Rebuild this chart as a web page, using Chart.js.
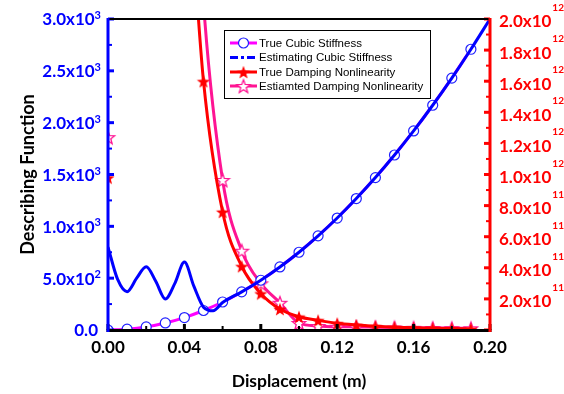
<!DOCTYPE html>
<html>
<head>
<meta charset="utf-8">
<script src="https://cdn.jsdelivr.net/npm/chart.js@4.4.0/dist/chart.umd.min.js"></script>
<style>
  html, body { margin: 0; padding: 0; background: #fff; }
</style>
</head>
<body>
<canvas id="grafico" width="564" height="394"></canvas>
<script>
// Displacement grid of the "true" curves (m)
const dispX = [0, 0.01, 0.02, 0.03, 0.04, 0.05, 0.06, 0.07, 0.08, 0.09, 0.10,
               0.11, 0.12, 0.13, 0.14, 0.15, 0.16, 0.17, 0.18, 0.19];
const trueCubic = [0, 8, 30, 68, 120, 188, 270, 368, 480, 608, 750,
                   908, 1080, 1268, 1470, 1688, 1920, 2168, 2430, 2708];

const estCubicX = [0, 0.005, 0.01, 0.015, 0.02, 0.025, 0.03, 0.035, 0.04, 0.045, 0.05, 0.055, 0.06,
                   0.07, 0.08, 0.09, 0.10, 0.11, 0.12, 0.13, 0.14, 0.15, 0.16, 0.17, 0.18, 0.19, 0.20];
const estCubic = [800, 490, 370, 500, 610, 470, 300, 450, 655, 420, 220, 185, 265,
                  368, 480, 608, 750, 908, 1080, 1268, 1470, 1688, 1920, 2168, 2430, 2708, 3000];

// damping curves (right axis); null breaks the line after the x = 0 point
const dampTrueX = [0, 0.02, 0.045, 0.05, 0.06, 0.07, 0.08, 0.09, 0.10, 0.11, 0.12,
                   0.13, 0.14, 0.15, 0.16, 0.17, 0.18, 0.19];
const dampTrue = [0.98e12, null, 2.4e12, 1.6e12, 0.76e12, 0.41e12, 0.235e12, 0.135e12, 0.085e12, 0.062e12, 0.043e12,
                  0.032e12, 0.024e12, 0.018e12, 0.014e12, 0.011e12, 0.009e12, 0.007e12];
const dampEstX = [0, 0.02, 0.045, 0.05, 0.06, 0.07, 0.08, 0.09, 0.10, 0.11, 0.12,
                  0.13, 0.14, 0.15, 0.16, 0.17, 0.18, 0.19];
const dampEst = [1.24e12, null, 3.2e12, 2.1e12, 0.965e12, 0.51e12, 0.3e12, 0.175e12, 0.045e12, 0.026e12, 0.021e12,
                 0.02e12, 0.018e12, 0.016e12, 0.014e12, 0.013e12, 0.012e12, 0.011e12];

// tick labels
const xTicks = [0, 0.04, 0.08, 0.12, 0.16, 0.20];
const xTickText = ['0.00', '0.04', '0.08', '0.12', '0.16', '0.20'];
const leftTicks = [0, 500, 1000, 1500, 2000, 2500, 3000];
const leftTickText = ['0.0', '5.0x10', '1.0x10', '1.5x10', '2.0x10', '2.5x10', '3.0x10'];
const leftTickExp = ['', '2', '3', '3', '3', '3', '3'];
const rightTicks = [0.2e12, 0.4e12, 0.6e12, 0.8e12, 1.0e12, 1.2e12, 1.4e12, 1.6e12, 1.8e12, 2.0e12];
const rightTickText = ['2.0x10', '4.0x10', '6.0x10', '8.0x10', '1.0x10', '1.2x10', '1.4x10', '1.6x10', '1.8x10', '2.0x10'];
const rightTickExp = ['11', '11', '11', '11', '12', '12', '12', '12', '12', '12'];

const legendLabels = ['True Cubic Stiffness', 'Estimating Cubic Stiffness',
                      'True Damping Nonlinearity', 'Estiamted Damping Nonlinearity'];

const AZUL = '#0000ff';
const VERMELHO = '#ff0000';
const MAGENTA = '#ff00ff';
const ROSA = '#ff1493';

function estrela(raio, preenchimento, contorno) {
    const c = document.createElement('canvas');
    const s = Math.ceil(raio * 2 + 4);
    c.width = s; c.height = s;
    const g = c.getContext('2d');
    g.translate(s / 2, s / 2 + 0.8);
    g.beginPath();
    for (let i = 0; i < 10; i++) {
        const r = i % 2 === 0 ? raio : raio * 0.42;
        const a = -Math.PI / 2 + i * Math.PI / 5;
        g.lineTo(r * Math.cos(a), r * Math.sin(a));
    }
    g.closePath();
    g.fillStyle = preenchimento;
    g.fill();
    if (contorno) {
        g.strokeStyle = contorno;
        g.lineWidth = 1.3;
        g.stroke();
    }
    return c;
}

const estrelaCheia = estrela(7, VERMELHO);
const estrelaVazia = estrela(7, '#fff', ROSA);

function linha(ctx, x1, y1, x2, y2, cor, w) {
    ctx.beginPath();
    ctx.strokeStyle = cor;
    ctx.lineWidth = w;
    ctx.moveTo(x1, y1);
    ctx.lineTo(x2, y2);
    ctx.stroke();
}

const eixos = {
    id: 'eixos',
    afterDatasetsDraw(chart) {
        const { ctx, chartArea: a, scales } = chart;
        const sx = scales.x, sy = scales.y, sy2 = scales.y2;
        ctx.save();

        // tick marks (pointing inward)
        for (let i = 0; i <= 10; i++) {
            const px = sx.getPixelForValue(i * 0.02);
            const maior = i % 2 === 0;
            linha(ctx, px, a.bottom, px, a.bottom - (maior ? 6 : 4), '#000', maior ? 3 : 2);
        }
        for (let i = 0; i <= 12; i++) {
            const py = sy.getPixelForValue(i * 250);
            const maior = i % 2 === 0;
            linha(ctx, a.left, py, a.left + (maior ? 6 : 4), py, AZUL, maior ? 3 : 2);
        }
        for (let i = 0; i <= 20; i++) {
            const py = sy2.getPixelForValue(i * 1e11);
            const maior = i % 2 === 0;
            linha(ctx, a.right, py, a.right - (maior ? 6 : 4), py, VERMELHO, maior ? 3 : 2);
        }

        // frame
        linha(ctx, a.left, a.top, a.right, a.top, '#000', 2);
        linha(ctx, a.left - 1.5, a.bottom + 0.5, a.right + 1.5, a.bottom + 0.5, '#000', 3);
        linha(ctx, a.left, a.top - 1, a.left, a.bottom + 2, AZUL, 3);
        linha(ctx, a.right, a.top - 1, a.right, a.bottom + 2, VERMELHO, 3);

        // x labels
        ctx.font = 'bold 17px Lato';
        ctx.fillStyle = '#000';
        ctx.textAlign = 'center';
        ctx.textBaseline = 'middle';
        xTicks.forEach((v, i) => {
            ctx.fillText(xTickText[i], sx.getPixelForValue(v), a.bottom + 18);
        });

        // left labels
        leftTicks.forEach((v, i) => {
            const py = sy.getPixelForValue(v) + 1;
            ctx.font = 'bold 11px Lato';
            const we = ctx.measureText(leftTickExp[i]).width;
            const xEnd = leftTickExp[i] ? 101 : 98;
            ctx.fillStyle = AZUL;
            ctx.textAlign = 'left';
            ctx.textBaseline = 'alphabetic';
            ctx.fillText(leftTickExp[i], xEnd - we, py - 1);
            ctx.font = 'bold 17px Lato';
            ctx.textAlign = 'right';
            ctx.textBaseline = 'middle';
            ctx.fillText(leftTickText[i], xEnd - we, py);
        });

        // right labels
        rightTicks.forEach((v, i) => {
            const py = sy2.getPixelForValue(v) + 3;
            ctx.fillStyle = VERMELHO;
            ctx.font = 'bold 17px Lato';
            ctx.textAlign = 'left';
            ctx.textBaseline = 'middle';
            ctx.fillText(rightTickText[i], 499, py);
            const w = ctx.measureText(rightTickText[i]).width;
            ctx.font = 'bold 10px Lato';
            ctx.textBaseline = 'alphabetic';
            ctx.fillText(rightTickExp[i], 499 + w + 1, py - 11);
        });

        // axis titles
        ctx.fillStyle = '#000';
        ctx.font = 'bold 17.5px Lato';
        ctx.textAlign = 'center';
        ctx.textBaseline = 'middle';
        ctx.fillText('Displacement (m)', (a.left + a.right) / 2, 381);
        ctx.save();
        ctx.font = 'bold 18px Lato';
        ctx.translate(28, (a.top + a.bottom) / 2);
        ctx.rotate(-Math.PI / 2);
        ctx.fillText('Describing Function', 0, 0);
        ctx.restore();

        // legend
        ctx.fillStyle = '#fff';
        ctx.fillRect(224.5, 30.5, 206, 68);
        ctx.strokeStyle = '#000';
        ctx.lineWidth = 1;
        ctx.strokeRect(224.5, 30.5, 206, 68);
        const ys = [43, 57.5, 72, 86];
        const cores = [MAGENTA, AZUL, VERMELHO, ROSA];
        ys.forEach((y, i) => {
            if (i === 1) ctx.setLineDash([8, 3, 3, 3]);
            linha(ctx, 230, y, 257, y, cores[i], 3);
            ctx.setLineDash([]);
        });
        ctx.beginPath();
        ctx.arc(243.5, ys[0], 5, 0, Math.PI * 2);
        ctx.fillStyle = '#fff';
        ctx.fill();
        ctx.strokeStyle = '#2020ff';
        ctx.lineWidth = 1.2;
        ctx.stroke();
        ctx.drawImage(estrelaCheia, 243.5 - estrelaCheia.width / 2, ys[2] - estrelaCheia.height / 2);
        ctx.drawImage(estrelaVazia, 243.5 - estrelaVazia.width / 2, ys[3] - estrelaVazia.height / 2);
        ctx.font = '11.5px "Liberation Sans"';
        ctx.fillStyle = '#000';
        ctx.textAlign = 'left';
        ctx.textBaseline = 'middle';
        legendLabels.forEach((t, i) => ctx.fillText(t, 259, ys[i] + 0.5));

        ctx.restore();
    }
};

function pares(xs, ys) {
    return xs.map((x, i) => ({ x: x, y: ys[i] }));
}

function criarGrafico() {
    const ctx = document.getElementById('grafico').getContext('2d');
    new Chart(ctx, {
        type: 'line',
        data: {
            datasets: [{
                label: legendLabels[1],
                data: pares(estCubicX, estCubic),
                yAxisID: 'y',
                borderColor: AZUL,
                borderWidth: 3,
                pointRadius: 0,
                cubicInterpolationMode: 'monotone',
                order: 0
            }, {
                label: legendLabels[0],
                data: pares(dispX, trueCubic),
                yAxisID: 'y',
                borderColor: MAGENTA,
                borderWidth: 3,
                pointStyle: 'circle',
                pointRadius: 5,
                pointBorderColor: '#2020ff',
                pointBackgroundColor: '#fff',
                pointBorderWidth: 1.2,
                cubicInterpolationMode: 'monotone',
                order: 1
            }, {
                label: legendLabels[2],
                data: pares(dampTrueX, dampTrue),
                yAxisID: 'y2',
                borderColor: VERMELHO,
                borderWidth: 3,
                pointStyle: estrelaCheia,
                pointRadius: 7,
                spanGaps: false,
                cubicInterpolationMode: 'monotone',
                order: 2
            }, {
                label: legendLabels[3],
                data: pares(dampEstX, dampEst),
                yAxisID: 'y2',
                borderColor: ROSA,
                borderWidth: 3,
                pointStyle: estrelaVazia,
                pointRadius: 7,
                spanGaps: false,
                cubicInterpolationMode: 'monotone',
                order: 3
            }]
        },
        options: {
            responsive: false,
            animation: false,
            layout: { padding: { left: 108, right: 74, top: 19, bottom: 64 } },
            plugins: {
                legend: { display: false },
                tooltip: { enabled: false }
            },
            scales: {
                x: { type: 'linear', min: 0, max: 0.2, display: false },
                y: { type: 'linear', min: 0, max: 3000, display: false },
                y2: { type: 'linear', position: 'right', min: 0, max: 2e12, display: false }
            }
        },
        plugins: [eixos]
    });
}

Promise.all([
    document.fonts.load('bold 17px Lato'),
    document.fonts.load('11px "Liberation Sans"')
]).then(criarGrafico, criarGrafico);
</script>
</body>
</html>
